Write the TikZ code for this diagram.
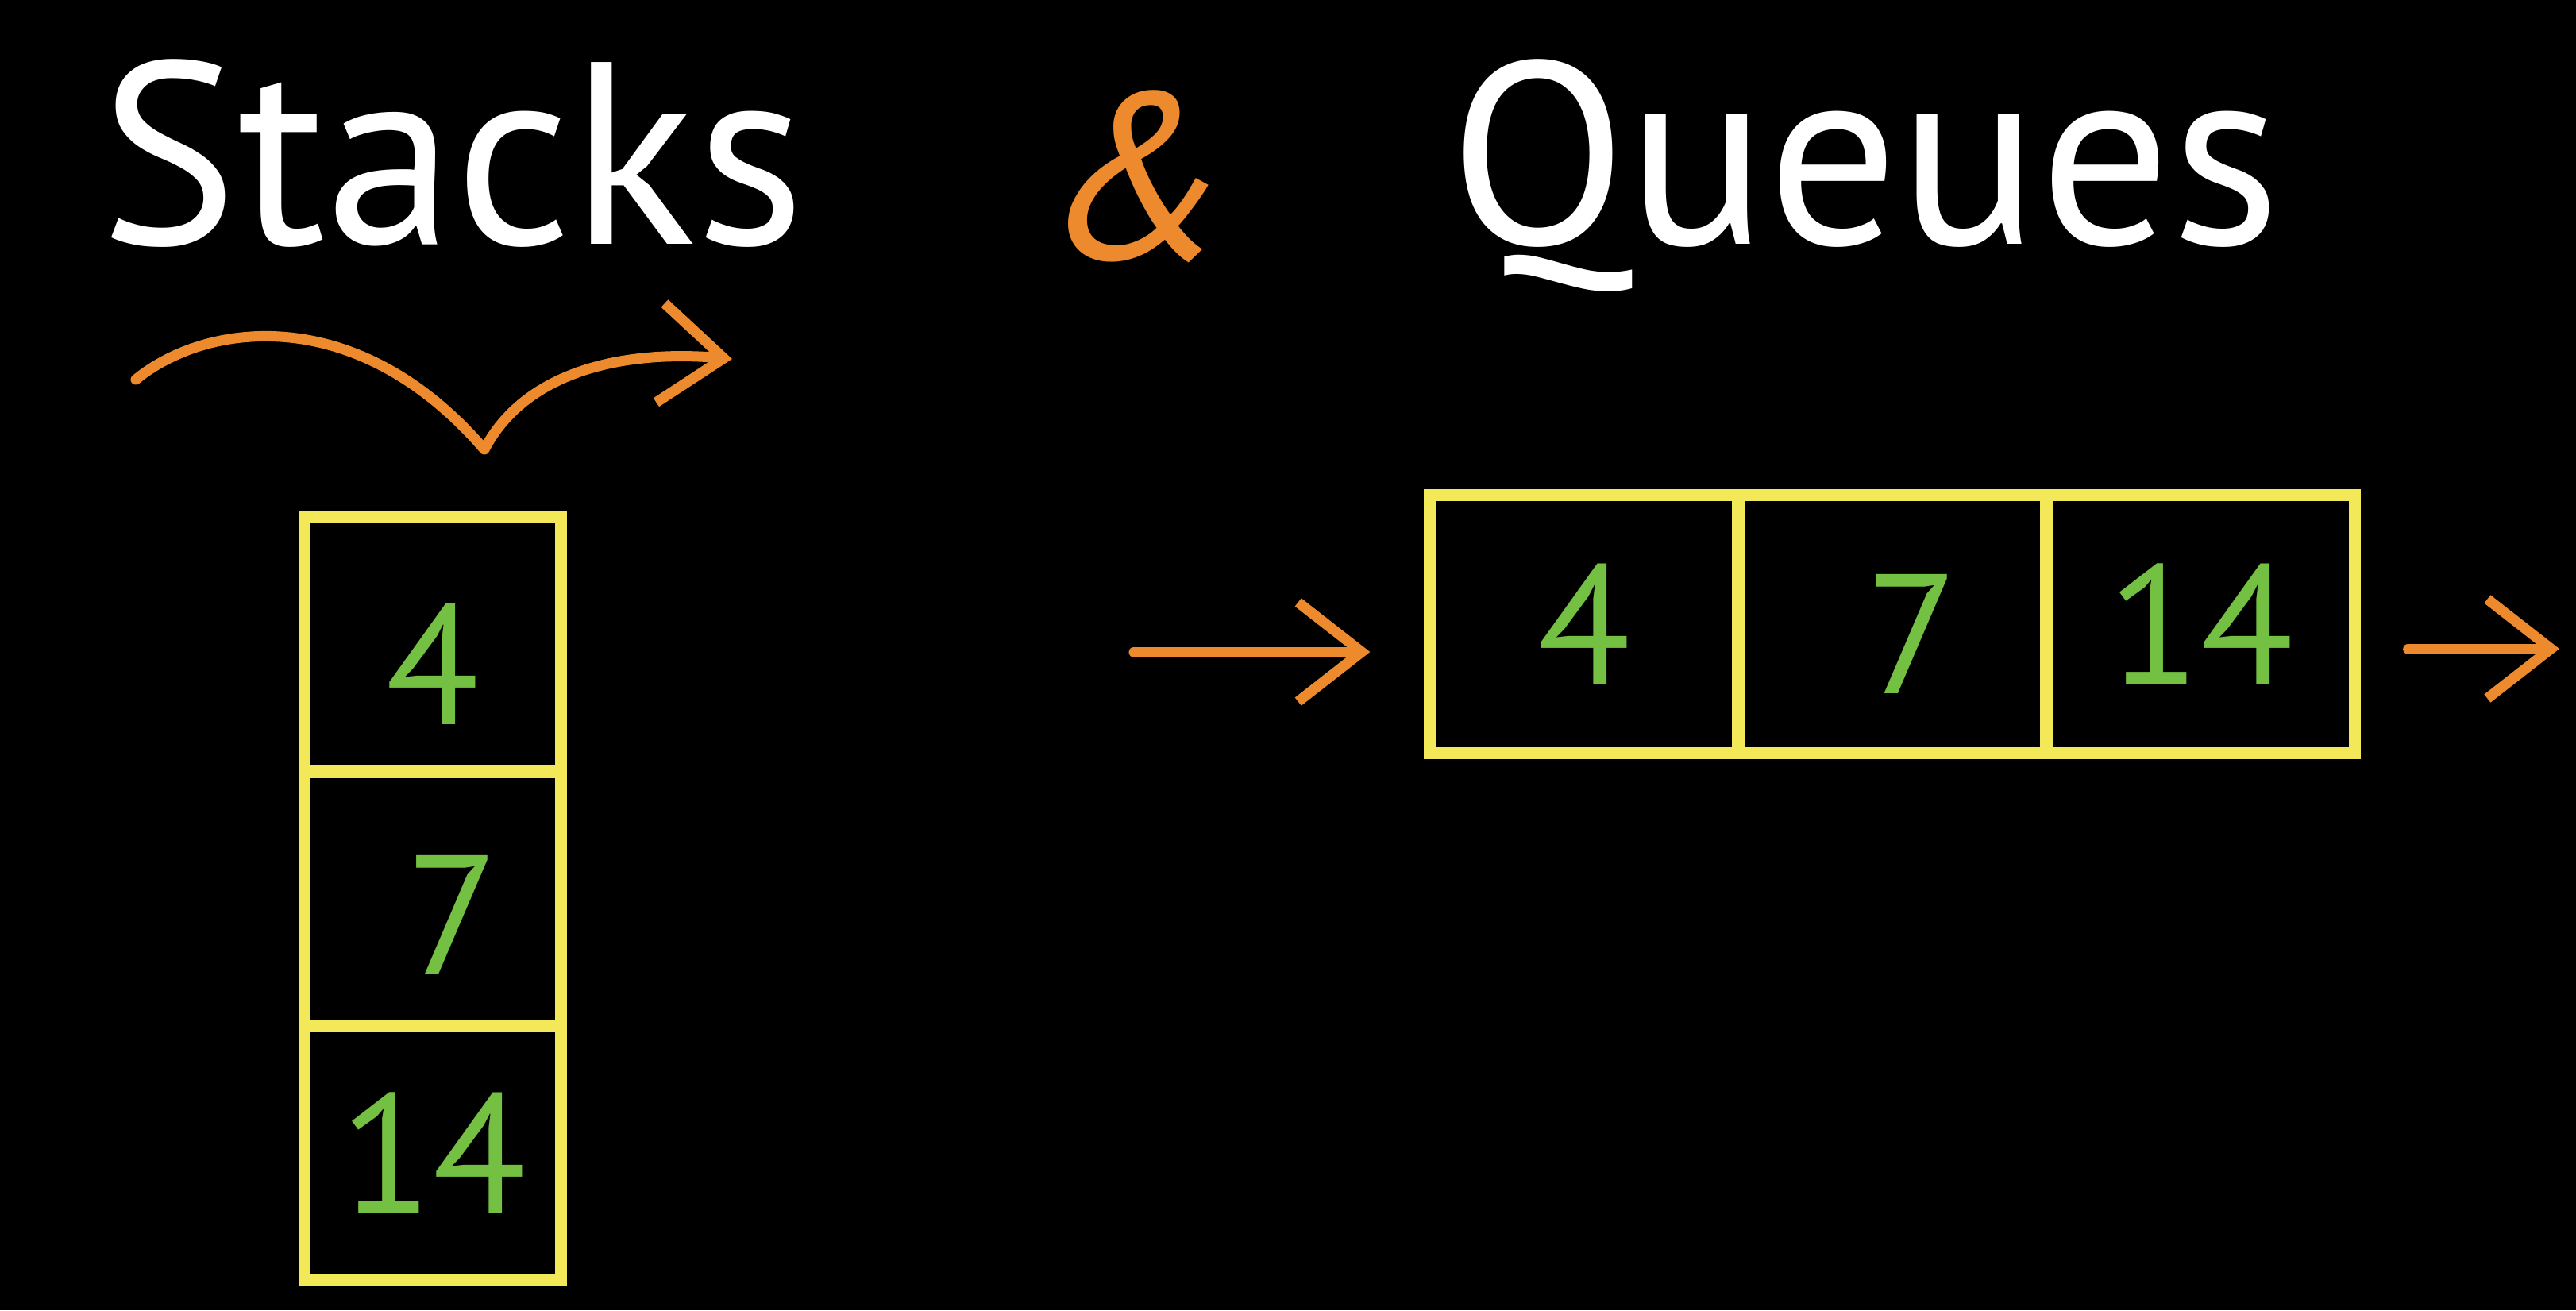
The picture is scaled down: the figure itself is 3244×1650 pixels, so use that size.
\documentclass[tikz,border=0pt]{standalone}
\usepackage{fontspec}
\setmainfont{PT Sans}
\usetikzlibrary{arrows.meta}
\definecolor{qyellow}{HTML}{F3E858}
\definecolor{qgreen}{HTML}{74C043}
\definecolor{qorange}{HTML}{EE8A2E}
\begin{document}
\begin{tikzpicture}[x=0.01cm,y=-0.01cm,
  title/.style={anchor=base west,text=white,inner sep=0,font=\fontsize{93}{100}\selectfont},
  cell/.style={draw=qyellow,line width=0.15cm,inner sep=0,text=qgreen,font=\fontsize{61}{70}\selectfont},
  scell/.style={cell,minimum width=3.23cm,minimum height=3.2cm},
  qcell/.style={cell,minimum width=3.88cm,minimum height=3.24cm},
  arr/.style={draw=qorange,line width=0.13cm,line cap=round,line join=round,-{Straight Barb[length=0.8cm,width=1.25cm]}}]
\fill[black] (0,0) rectangle (3244,1650);
\useasboundingbox (0,0) rectangle (3244,1650);
% titles
\node[title] (stacks) at (125,307) {Stacks};
\node[title] (queues) at (1825,307) {Queues};
\node[text=qorange,inner sep=0,font=\fontsize{85}{90}\selectfont\itshape] (amp) at (1435,222) {\&};
% stack
\node[scell,text height=2.0cm] (s1) at (545,812) {4};
\node[scell,text height=1.9cm] (s2) at (545,1132) {\hspace*{0.5cm}7};
\node[scell] (s3) at (545,1452) {14};
% queue
\node[qcell] (q1) at (1995,786) {4};
\node[qcell,text height=1.75cm] (q2) at (2383,786) {\hspace*{0.5cm}7};
\node[qcell] (q3) at (2771,786) {14};
% queue arrows
\coordinate (qin) at (1428,821);
\coordinate (qout) at (3223,817);
\draw[arr,shorten >=0.68cm] (qin) -- (qin -| q1.west);
\draw[arr,shorten <=0.6cm] (qout -| q3.east) -- (qout);
% stack arrow
\coordinate (cs) at (171,478);
\coordinate (cv) at (610,566);
\coordinate (ce) at (922,452);
\draw[arr] (cs) .. controls (260,405) and (450,380) .. (cv) .. controls (660,470) and (780,440) .. (ce);
\end{tikzpicture}
\end{document}
